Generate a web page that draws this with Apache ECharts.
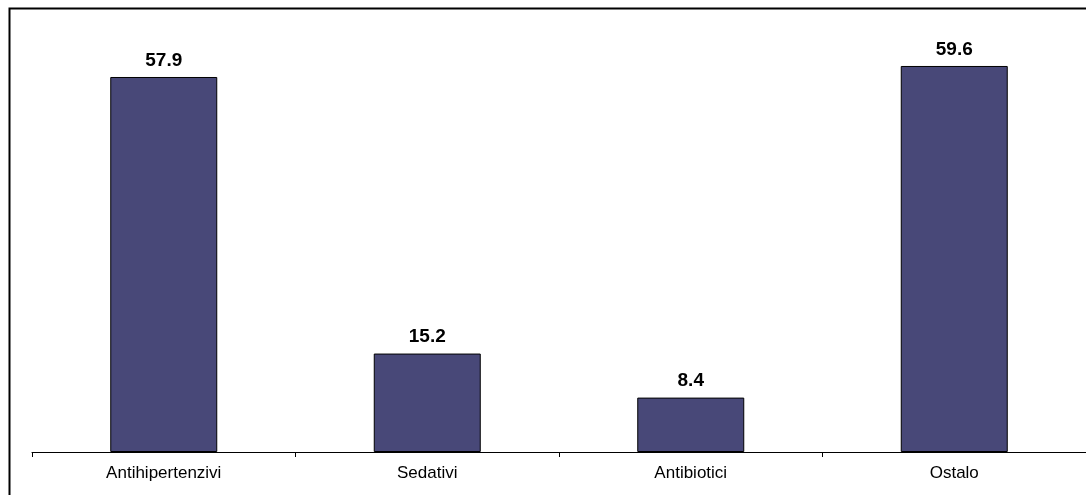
<!DOCTYPE html>
<html><head><meta charset="utf-8">
<script src="https://cdn.jsdelivr.net/npm/echarts@6/dist/echarts.min.js"></script>
<style>html,body{margin:0;padding:0;background:#fff}#c{width:1086px;height:495px}</style>
</head><body><div id="c"></div>
<script>
const categories = ['Antihipertenzivi', 'Sedativi', 'Antibiotici', 'Ostalo'];
const values = [57.9, 15.2, 8.4, 59.6];

const chart = echarts.init(document.getElementById('c'), null, {renderer: 'canvas'});
chart.setOption({
  animation: false,
  backgroundColor: '#ffffff',
  graphic: [{
    type: 'rect', left: 7, top: 6, z: 100, silent: true,
    shape: {x: 0, y: 0, width: 1200, height: 600},
    style: {fill: 'none', stroke: '#000', lineWidth: 2}
  }],
  grid: {left: 32, right: -2, top: 31, bottom: 43, containLabel: false},
  xAxis: {
    type: 'category', data: categories,
    axisLine: {lineStyle: {color: '#000', width: 1}},
    axisTick: {show: true, length: 5, lineStyle: {color: '#000'}},
    axisLabel: {color: '#000', fontFamily: 'Liberation Sans', fontSize: 17, margin: 13}
  },
  yAxis: {
    type: 'value', min: 0, max: 65, show: false,
    splitLine: {show: false}
  },
  series: [{
    type: 'bar', data: values, barWidth: 107,
    itemStyle: {color: '#484878', borderColor: '#000', borderWidth: 1},
    label: {show: true, position: 'top', distance: 7, color: '#000',
      fontFamily: 'Liberation Sans', fontWeight: 'bold', fontSize: 19,
      formatter: p => p.value.toFixed(1)}
  }]
});
</script></body></html>
